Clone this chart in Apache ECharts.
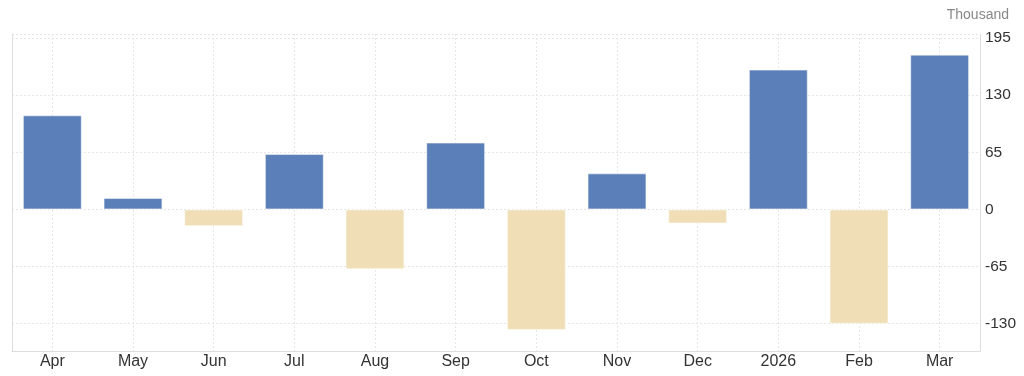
<!DOCTYPE html>
<html>
<head>
<meta charset="utf-8">
<script src="https://cdn.jsdelivr.net/npm/echarts@6/dist/echarts.min.js"></script>
<style>
  html, body { margin: 0; padding: 0; background: #fff; }
  #chart { width: 1024px; height: 376px; }
</style>
</head>
<body>
<div id="chart"></div>
<script>
const months = ['Apr', 'May', 'Jun', 'Jul', 'Aug', 'Sep', 'Oct', 'Nov', 'Dec', '2026', 'Feb', 'Mar'];
const values = [107, 13, -19, 63, -68, 76, -137, 41, -16, 159, -130, 176];
const yTicks = [-130, -65, 0, 65, 130, 195];

const blue = '#5b7fb8';
const tan = '#f0dfb6';

// hidden half-step axis so vertical grid lines fall on category centres
const halfSteps = [];
for (let i = 0; i <= months.length * 2; i++) halfSteps.push(String(i));

const myChart = echarts.init(document.getElementById('chart'));

const option = {
  animation: false,
  textStyle: { fontFamily: 'Liberation Sans, Arial, sans-serif' },
  title: {
    text: 'Thousand',
    right: 10,
    top: 3,
    textStyle: { fontSize: 14, fontWeight: 'normal', color: '#888' }
  },
  grid: { left: 12, right: 44, top: 34, bottom: 25 },
  xAxis: [
    {
      type: 'category',
      data: months,
      axisLine: { onZero: false, lineStyle: { color: '#ddd' } },
      axisTick: { show: false },
      axisLabel: { color: '#333', fontSize: 16, margin: 3 },
      splitLine: { show: false }
    },
    {
      type: 'category',
      data: halfSteps,
      boundaryGap: false,
      position: 'bottom',
      axisLine: { show: false },
      axisTick: { show: false },
      axisLabel: { show: false },
      splitLine: {
        show: true,
        interval: idx => idx % 2 === 1,
        lineStyle: { color: '#e6e6e6', type: [2, 2] }
      }
    }
  ],
  yAxis: [
    {
      type: 'value',
      position: 'right',
      min: -161,
      max: 199.5,
      axisLine: { show: true, lineStyle: { color: '#ddd' } },
      axisTick: { show: false, customValues: yTicks.concat([199.5]) },
      axisLabel: { color: '#333', fontSize: 15.5, margin: 5, customValues: yTicks },
      splitLine: { show: true, lineStyle: { color: '#e6e6e6', type: [2, 2] } }
    },
    {
      type: 'value',
      position: 'left',
      min: -161,
      max: 199.5,
      axisLine: { show: true, lineStyle: { color: '#ddd' } },
      axisTick: { show: false },
      axisLabel: { show: false },
      splitLine: { show: false }
    }
  ],
  series: [
    {
      type: 'bar',
      xAxisIndex: 0,
      yAxisIndex: 0,
      barCategoryGap: '27%',
      data: values.map(v => ({
        value: v,
        itemStyle: { color: v >= 0 ? blue : tan }
      })),
      itemStyle: { borderColor: 'rgba(255,255,255,0.5)', borderWidth: 1 }
    }
  ]
};

myChart.setOption(option);
window.addEventListener('resize', function () {
  myChart.resize();
});
</script>
</body>
</html>
